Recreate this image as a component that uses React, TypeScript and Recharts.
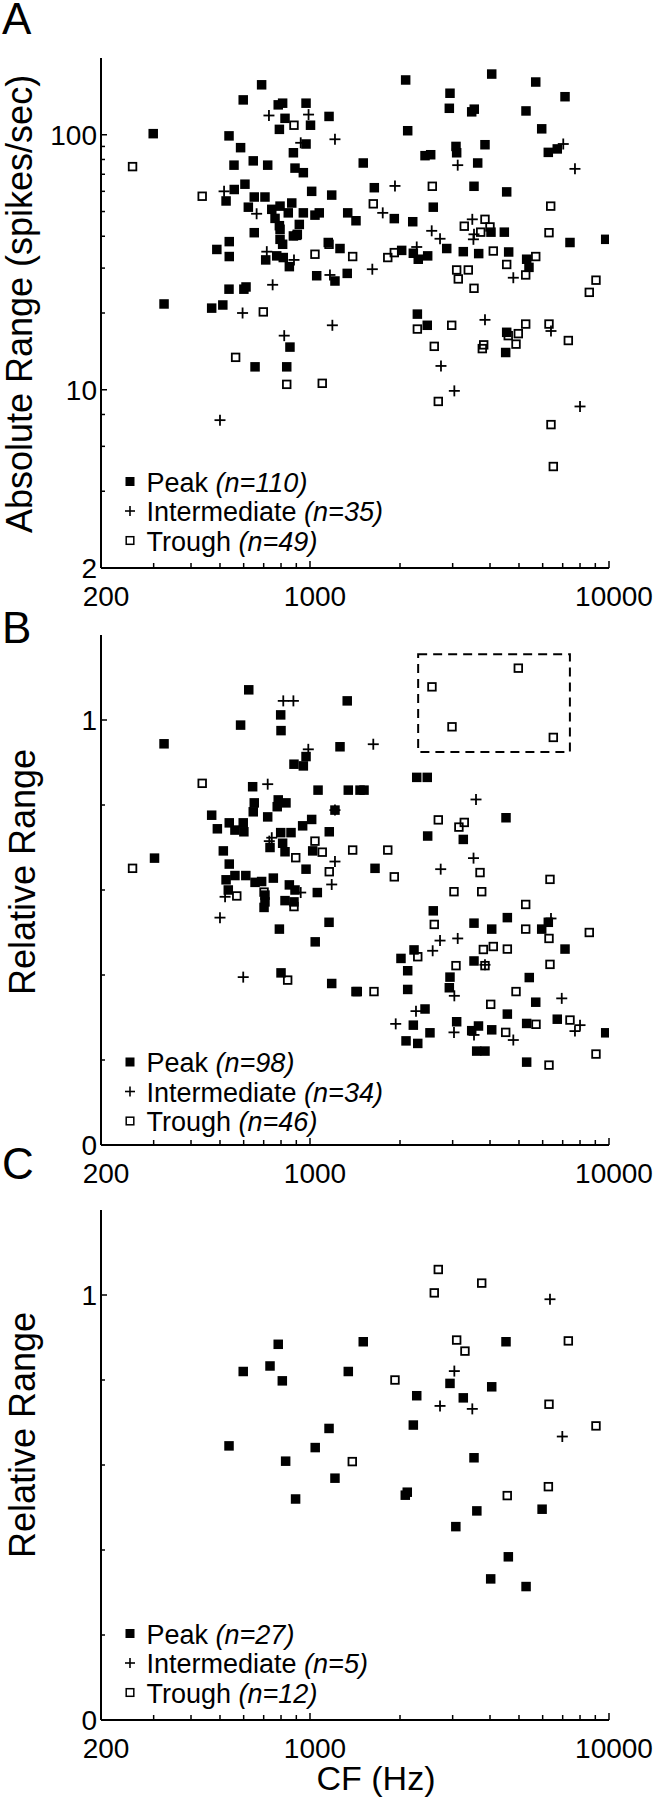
import { ScatterChart, Scatter, XAxis, YAxis, ReferenceArea } from "recharts";

type Pt = [number, number];

const FONT = "'Liberation Sans', Arial, sans-serif";

// CF axis (shared by the three panels)
const cfTicks = [200, 300, 400, 500, 600, 700, 800, 900, 1000, 2000, 3000, 4000, 5000, 6000, 7000, 8000, 9000, 10000];
const cfLabels = [200, 1000, 10000];

// y axes
const absTicks = [2, 4, 6, 8, 10, 20, 30, 40, 50, 60, 70, 80, 90, 100];
const absLabels = [2, 10, 100];
const relTicks = [0, 0.2, 0.4, 0.6, 0.8, 1];
const relLabels = [0, 1];

const seriesNames = ["Peak", "Intermediate", "Trough"];

// ---- panel A: absolute range (spikes/sec) vs CF (Hz) ----
const peakA: Pt[] = [
  [689, 157], [598, 137], [783, 131], [810, 133], [970, 133], [1158, 118], [825, 116], [1004, 109], [790, 105],
  [299, 101], [536, 99], [970, 92], [586, 89], [880, 85], [646, 79], [722, 76], [557, 76], [891, 74], [950, 71],
  [606, 64], [558, 61], [524, 55], [1013, 60], [1182, 58], [651, 57], [707, 57], [622, 52], [745, 51], [794, 52.5],
  [869, 54], [764, 47], [846, 49.4], [950, 49.4], [1039, 48.4], [1074, 49.4], [1337, 49.4], [1425, 46], [790, 44],
  [794, 42.6], [921, 44.5], [651, 41.3], [880, 40.1], [907, 40.7], [794, 38.9], [810, 37.2], [537, 38.1], [488, 35.5],
  [537, 33.3], [711, 32.3], [774, 33.5], [814, 33], [853, 30.4], [1151, 37.8], [1260, 35.8], [1053, 28], [1212, 26.7],
  [1332, 28.6], [536, 24.8], [601, 24.8], [611, 25.3], [325, 21.7], [469, 20.9], [511, 21.5], [857, 14.7], [655, 12.3],
  [836, 12.3], [2089, 164], [4053, 173], [5688, 161], [7127, 141], [2939, 145.5], [2924, 127], [3474, 123], [3543, 126],
  [5277, 124], [5956, 105.5], [2122, 103.7], [3078, 90], [3094, 85], [3848, 91.4], [6266, 85.3], [6714, 88], [2425, 82.8],
  [2533, 83.5], [1507, 77.5], [3638, 77.5], [1641, 62], [3536, 62.8], [4548, 59.7], [2584, 52], [1914, 46.9], [2206, 45.6],
  [4030, 41.5], [4466, 41.5], [7405, 37.8], [9750, 38.9], [2026, 35.2], [2216, 34.3], [2302, 32.5], [2475, 33.5],
  [2866, 35.8], [3256, 34.8], [3666, 34.2], [4618, 34.7], [5304, 32.5], [5400, 30.2], [2286, 19.8], [2467, 17.9],
  [4548, 16.8], [4513, 14],
];
const interA: Pt[] = [
  [729, 119], [989, 120], [1212, 96], [931, 93], [516, 60], [663, 49], [717, 34.8], [884, 32.3], [1166, 28.2],
  [750, 25.8], [595, 20], [1188, 17.9], [820, 16.3], [500, 7.6], [3119, 76], [7031, 92], [7694, 73.5], [1924, 63],
  [1751, 49.4], [2553, 42], [2722, 39.1], [3490, 46.6], [3536, 40.7], [3520, 38.9], [2275, 36.3], [1616, 29.7],
  [4786, 27.5], [3848, 18.8], [6397, 17], [2742, 12.4], [3039, 9.9], [8000, 8.6],
];
const troughA: Pt[] = [
  [255, 75], [436, 57.4], [884, 109], [903, 40.3], [1039, 34], [1158, 37.2], [1389, 33.3], [698, 20.2], [564, 13.4],
  [836, 10.5], [1099, 10.6], [2565, 62.8], [1628, 53.6], [6383, 52.5], [3281, 43.8], [3848, 46.6], [3999, 43.5],
  [3723, 41.5], [6300, 41.3], [1820, 33], [1914, 34.5], [4102, 35], [4548, 31], [5688, 33.3], [5265, 28.2], [3094, 29.5],
  [3384, 29.5], [3133, 27.2], [3536, 25], [9046, 26.9], [8592, 24.1], [2286, 17.3], [2978, 17.9], [2604, 14.8],
  [3770, 14.5], [3810, 15], [4603, 16.3], [4974, 16.6], [4887, 15.1], [5265, 18.1], [6300, 18.1], [7311, 15.6],
  [2686, 9], [6397, 7.3], [6513, 5],
];

// ---- panel B: relative range vs CF ----
const peakB: Pt[] = [
  [624, 1.071], [1332, 1.045], [798, 1.012], [586, 0.988], [800, 0.975], [325, 0.944], [1260, 0.937], [970, 0.914],
  [884, 0.896], [950, 0.892], [643, 0.843], [1064, 0.835], [1343, 0.835], [1470, 0.835], [1516, 0.835], [651, 0.805],
  [646, 0.784], [783, 0.812], [831, 0.805], [777, 0.796], [1212, 0.788], [469, 0.776], [722, 0.772], [537, 0.758],
  [598, 0.758], [490, 0.744], [561, 0.741], [601, 0.737], [1013, 0.766], [945, 0.751], [864, 0.735], [798, 0.735],
  [1160, 0.737], [735, 0.7], [810, 0.71], [825, 0.69], [1021, 0.692], [513, 0.692], [537, 0.661], [970, 0.649],
  [302, 0.675], [524, 0.624], [561, 0.634], [610, 0.634], [655, 0.618], [689, 0.62], [754, 0.628], [533, 0.6],
  [707, 0.588], [702, 0.559], [707, 0.572], [853, 0.612], [891, 0.6], [884, 0.572], [825, 0.575], [1058, 0.594],
  [1158, 0.524], [790, 0.508], [1041, 0.478], [800, 0.405], [1182, 0.38], [1425, 0.361], [2275, 0.865], [2467, 0.865],
  [4524, 0.77], [2475, 0.727], [3256, 0.719], [1650, 0.651], [2584, 0.551], [3536, 0.522], [4053, 0.508], [4571, 0.535],
  [6266, 0.524], [5956, 0.508], [7127, 0.461], [2228, 0.459], [2015, 0.439], [2122, 0.41], [3536, 0.433], [2939, 0.395],
  [2924, 0.37], [2122, 0.366], [1439, 0.361], [5412, 0.394], [5688, 0.336], [2425, 0.32], [4571, 0.308], [2216, 0.282],
  [2519, 0.264], [2095, 0.245], [2293, 0.239], [3094, 0.29], [3660, 0.28], [3474, 0.269], [4053, 0.271], [5304, 0.286],
  [6714, 0.296], [9750, 0.264], [3610, 0.221], [3848, 0.221], [5304, 0.195],
];
const interB: Pt[] = [
  [814, 1.045], [880, 1.045], [987, 0.931], [722, 0.849], [745, 0.723], [731, 0.715], [1212, 0.667], [520, 0.584],
  [500, 0.535], [931, 0.594], [1182, 0.613], [598, 0.395], [1212, 0.788], [1628, 0.943], [3591, 0.813], [3523, 0.675],
  [2736, 0.649], [6397, 0.533], [2722, 0.481], [3119, 0.486], [2572, 0.457], [3848, 0.424], [3039, 0.351],
  [6950, 0.345], [2262, 0.315], [1935, 0.285], [3031, 0.265], [3536, 0.259], [4786, 0.247], [8000, 0.282], [7694, 0.268],
];
const troughB: Pt[] = [
  [4974, 1.122], [2558, 1.078], [2985, 0.984], [6513, 0.959], [436, 0.851], [255, 0.651], [1039, 0.715], [1099, 0.689],
  [896, 0.676], [1389, 0.694], [1160, 0.643], [569, 0.586], [702, 0.595], [884, 0.561], [842, 0.388], [2686, 0.765],
  [3281, 0.759], [3148, 0.748], [1820, 0.694], [1914, 0.631], [3704, 0.641], [6348, 0.625], [3031, 0.596],
  [3752, 0.596], [5265, 0.566], [2604, 0.519], [5265, 0.508], [6300, 0.486], [8592, 0.5], [3800, 0.46], [4102, 0.467],
  [4571, 0.461], [2293, 0.443], [3078, 0.422], [3848, 0.422], [6348, 0.425], [1637, 0.361], [4887, 0.361],
  [4021, 0.331], [5700, 0.284], [7405, 0.294], [4513, 0.265], [9046, 0.214], [6300, 0.188],
];
// dashed outline around the four high troughs
const boxB = { x1: 2300, x2: 7400, y1: 0.925, y2: 1.155 };

// ---- panel C ----
const peakC: Pt[] = [
  [783, 0.884], [598, 0.82], [735, 0.833], [808, 0.798], [1343, 0.82], [1158, 0.686], [536, 0.645], [1041, 0.641],
  [829, 0.609], [1212, 0.569], [895, 0.52], [2083, 0.529], [2115, 0.536], [3074, 0.455], [3614, 0.492], [4606, 0.384],
  [4021, 0.332], [5280, 0.314], [5974, 0.496], [1507, 0.89], [4524, 0.89], [2939, 0.792], [2275, 0.763], [3256, 0.758],
  [4053, 0.784], [2216, 0.694], [3536, 0.617],
];
const interC: Pt[] = [[6348, 0.99], [3039, 0.821], [2722, 0.739], [3490, 0.732], [6980, 0.667]];
const troughC: Pt[] = [
  [2686, 1.06], [2604, 1.005], [3752, 1.028], [3094, 0.894], [3298, 0.868], [7311, 0.892], [1924, 0.8], [6300, 0.743],
  [9046, 0.692], [1385, 0.608], [4568, 0.528], [6270, 0.549],
];

const toRows = (pts: Pt[]) => pts.map(([cf, v]) => ({ cf, v }));

function FilledSquare({ cx, cy }: any) {
  return <rect x={cx - 4.75} y={cy - 4.75} width={9.5} height={9.5} fill="#000" />;
}

function OpenSquare({ cx, cy }: any) {
  return <rect x={cx - 3.8} y={cy - 3.8} width={7.6} height={7.6} fill="none" stroke="#000" strokeWidth={1.8} />;
}

function Plus({ cx, cy }: any) {
  return (
    <g stroke="#000" strokeWidth={1.8}>
      <line x1={cx - 5.5} x2={cx + 5.5} y1={cy} y2={cy} />
      <line x1={cx} x2={cx} y1={cy - 5.5} y2={cy + 5.5} />
    </g>
  );
}

// ticks point into the plot, labels only on the major ones
function XTick({ x, y, payload }: any) {
  const major = cfLabels.includes(payload.value);
  return (
    <g>
      <line x1={x} x2={x} y1={y} y2={y - (major ? 7 : 5)} stroke="#000" strokeWidth={1.5} />
      {major && (
        <text x={x + 5} y={y + 38} textAnchor="middle" fontSize={28} fontFamily={FONT} fill="#000">
          {payload.value}
        </text>
      )}
    </g>
  );
}

function YTick({ x, y, payload, labels }: any) {
  const major = labels.includes(payload.value);
  return (
    <g>
      <line x1={x} x2={x + (major ? 6 : 4)} y1={y} y2={y} stroke="#000" strokeWidth={1.5} />
      {major && (
        <text x={x - 4} y={y} dy="0.36em" textAnchor="end" fontSize={28} fontFamily={FONT} fill="#000">
          {payload.value}
        </text>
      )}
    </g>
  );
}

function LegendRows({ base, counts }: { base: number; counts: number[] }) {
  return (
    <g>
      {seriesNames.map((name, i) => {
        const by = base + i * 29.5;
        const cy = by - 10;
        return (
          <g key={name}>
            {i === 0 && <rect x={125.5} y={cy - 4.5} width={9} height={9} fill="#000" />}
            {i === 1 && (
              <g stroke="#000" strokeWidth={1.6}>
                <line x1={125} x2={135} y1={cy} y2={cy} />
                <line x1={130} x2={130} y1={cy - 5} y2={cy + 5} />
              </g>
            )}
            {i === 2 && <rect x={126.2} y={cy - 3.8} width={7.6} height={7.6} fill="none" stroke="#000" strokeWidth={1.5} />}
            <text x={146.5} y={by} fontSize={27} fontFamily={FONT} fill="#000">
              {name + " "}
              <tspan fontStyle="italic">(n={counts[i]})</tspan>
            </text>
          </g>
        );
      })}
    </g>
  );
}

interface PanelProps {
  top: number;
  height: number;
  plotTop: number;
  plotBottom: number;
  letter: string;
  letterY: number;
  yTitle: string;
  yTitleX: number;
  yTitleY: number;
  yScale: "log" | "linear";
  yDomain: [number, number];
  yTicks: number[];
  yLabels: number[];
  peak: Pt[];
  inter: Pt[];
  trough: Pt[];
  counts: number[];
  legendBase: number;
  box?: { x1: number; x2: number; y1: number; y2: number };
  xTitleY?: number;
}

function Panel(p: PanelProps) {
  const axisLine = { stroke: "#000", strokeWidth: 2 };
  return (
    <div style={{ position: "absolute", left: 0, top: p.top, width: 660, height: p.height }}>
      <ScatterChart
        width={660}
        height={p.height}
        margin={{ top: p.plotTop, right: 51, bottom: p.height - p.plotBottom - 40, left: 0 }}
      >
        <XAxis
          type="number"
          dataKey="cf"
          scale="log"
          domain={[200, 10000]}
          allowDataOverflow
          ticks={cfTicks}
          interval={0}
          height={40}
          tickSize={0}
          tickMargin={0}
          tickLine={false}
          axisLine={axisLine}
          tick={<XTick />}
        />
        <YAxis
          type="number"
          dataKey="v"
          scale={p.yScale}
          domain={p.yDomain}
          allowDataOverflow
          ticks={p.yTicks}
          interval={0}
          width={101}
          tickSize={0}
          tickMargin={0}
          tickLine={false}
          axisLine={axisLine}
          tick={<YTick labels={p.yLabels} />}
        />
        {p.box && (
          <ReferenceArea
            x1={p.box.x1}
            x2={p.box.x2}
            y1={p.box.y1}
            y2={p.box.y2}
            fill="none"
            fillOpacity={0}
            stroke="#000"
            strokeWidth={2}
            strokeDasharray="9 6"
          />
        )}
        <Scatter data={toRows(p.trough)} shape={OpenSquare} isAnimationActive={false} />
        <Scatter data={toRows(p.inter)} shape={Plus} isAnimationActive={false} />
        <Scatter data={toRows(p.peak)} shape={FilledSquare} isAnimationActive={false} />
      </ScatterChart>
      <svg
        width={660}
        height={p.height}
        style={{ position: "absolute", left: 0, top: 0, pointerEvents: "none" }}
      >
        <text x={2} y={p.letterY} fontSize={44} fontFamily={FONT} fill="#000">
          {p.letter}
        </text>
        <text
          x={p.yTitleX}
          y={p.yTitleY}
          transform={`rotate(-90 ${p.yTitleX} ${p.yTitleY})`}
          textAnchor="middle"
          fontSize={36}
          fontFamily={FONT}
          fill="#000"
        >
          {p.yTitle}
        </text>
        <LegendRows base={p.legendBase} counts={p.counts} />
        {p.xTitleY !== undefined && (
          <text x={376} y={p.xTitleY} textAnchor="middle" fontSize={34} fontFamily={FONT} fill="#000">
            CF (Hz)
          </text>
        )}
      </svg>
    </div>
  );
}

export default function App() {
  return (
    <div style={{ position: "absolute", left: 0, top: 0, width: 660, height: 1800, background: "#fff" }}>
      <Panel
        top={0}
        height={640}
        plotTop={58}
        plotBottom={568}
        letter="A"
        letterY={34}
        yTitle="Absolute Range (spikes/sec)"
        yTitleX={32}
        yTitleY={304}
        yScale="log"
        yDomain={[2, 200]}
        yTicks={absTicks}
        yLabels={absLabels}
        peak={peakA}
        inter={interA}
        trough={troughA}
        counts={[110, 35, 49]}
        legendBase={491.5}
      />
      <Panel
        top={600}
        height={600}
        plotTop={35}
        plotBottom={545}
        letter="B"
        letterY={43}
        yTitle="Relative Range"
        yTitleX={35}
        yTitleY={272}
        yScale="linear"
        yDomain={[0, 1.2]}
        yTicks={relTicks}
        yLabels={relLabels}
        peak={peakB}
        inter={interB}
        trough={troughB}
        counts={[98, 34, 46]}
        legendBase={472}
        box={boxB}
      />
      <Panel
        top={1140}
        height={660}
        plotTop={70}
        plotBottom={580}
        letter="C"
        letterY={39}
        yTitle="Relative Range"
        yTitleX={35}
        yTitleY={295}
        yScale="linear"
        yDomain={[0, 1.2]}
        yTicks={relTicks}
        yLabels={relLabels}
        peak={peakC}
        inter={interC}
        trough={troughC}
        counts={[27, 5, 12]}
        legendBase={503.5}
        xTitleY={650}
      />
    </div>
  );
}
